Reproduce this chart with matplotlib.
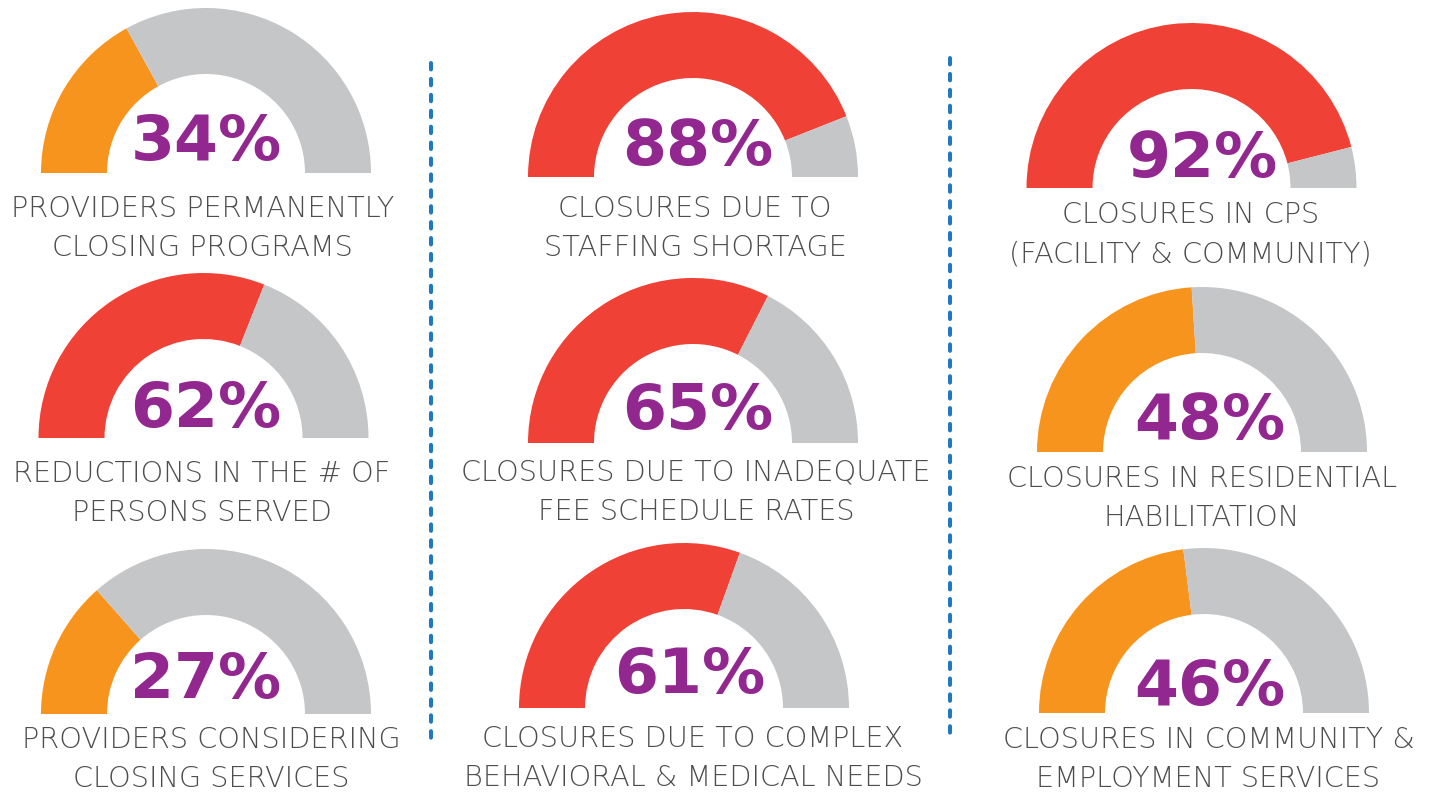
import matplotlib.pyplot as plt
from matplotlib.patches import Wedge

# values, row by row (left, middle, right column)
pcts = [34, 88, 92,
        62, 65, 48,
        27, 61, 46]
labels = [["PROVIDERS PERMANENTLY", "CLOSING PROGRAMS"],
          ["CLOSURES DUE TO", "STAFFING SHORTAGE"],
          ["CLOSURES IN CPS", "(FACILITY & COMMUNITY)"],
          ["REDUCTIONS IN THE # OF", "PERSONS SERVED"],
          ["CLOSURES DUE TO INADEQUATE", "FEE SCHEDULE RATES"],
          ["CLOSURES IN RESIDENTIAL", "HABILITATION"],
          ["PROVIDERS CONSIDERING", "CLOSING SERVICES"],
          ["CLOSURES DUE TO COMPLEX", "BEHAVIORAL & MEDICAL NEEDS"],
          ["CLOSURES IN COMMUNITY &", "EMPLOYMENT SERVICES"]]
fill_colors = ["#F7941D", "#EF4136", "#EF4136",
               "#EF4136", "#EF4136", "#F7941D",
               "#F7941D", "#EF4136", "#F7941D"]

# layout in pixel units (figure is 1434 x 793)
gauge_cx = [206, 693, 1191.5, 203.5, 693, 1202, 206, 684, 1204]
gauge_base = [173, 177, 188, 438, 443, 452, 714, 708, 713]
pct_x = [206, 697.5, 1202, 206, 698, 1210, 206, 689.5, 1209.5]
pct_y = [160, 165, 177, 427, 429, 439, 698, 693, 705]
lab_x = [202.5, 695, 1190.5, 201.5, 696, 1202, 211, 693, 1208.5]
lab_y = [217, 217, 223, 482, 481, 487, 748, 747, 748]
R_OUT = 165
R_IN = 99
GRAY = "#C4C6C8"
PURPLE = "#92278F"
TEXT = "#4D4D4D"
BLUE = "#1F78C1"

fig = plt.figure(figsize=(14.34, 7.93), dpi=100)
ax = fig.add_axes([0, 0, 1, 1])
ax.set_xlim(0, 1434)
ax.set_ylim(793, 0)
ax.axis('off')

for i in range(9):
    split = 180 + pcts[i] * 1.8
    ax.add_patch(Wedge((gauge_cx[i], gauge_base[i]), R_OUT, 180, split,
                       width=R_OUT - R_IN, color=fill_colors[i], lw=0))
    ax.add_patch(Wedge((gauge_cx[i], gauge_base[i]), R_OUT, split, 360,
                       width=R_OUT - R_IN, color=GRAY, lw=0))
    ax.text(pct_x[i], pct_y[i], "%d%%" % pcts[i], ha='center', va='baseline',
            fontsize=45.5, fontweight='bold', color=PURPLE, family='DejaVu Sans')
    for j, line in enumerate(labels[i]):
        ax.text(lab_x[i], lab_y[i] + j * 39, line, ha='center', va='baseline',
                fontsize=20.7, fontweight='light', color=TEXT, family='DejaVu Sans')

# dotted separators between columns
for x, y0 in [(430.5, 63), (950, 58)]:
    ax.plot([x, x], [y0, 741], color=BLUE, lw=2.9, linestyle=(0, (1.6, 2.35)),
            dash_capstyle='round')

fig.savefig("out.png", dpi=100, facecolor='white')
